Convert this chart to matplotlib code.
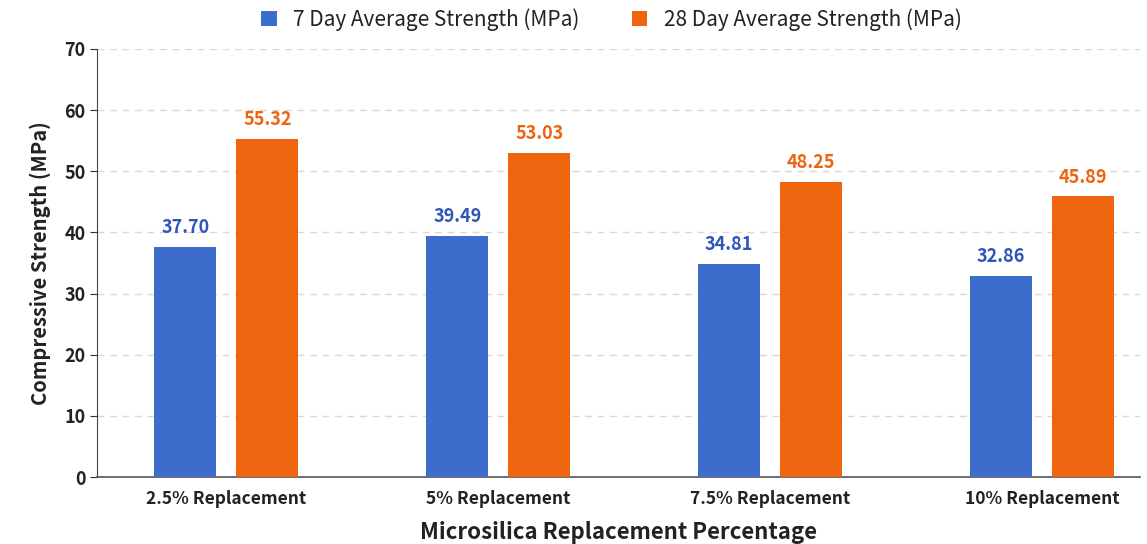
import numpy as np
import matplotlib.pyplot as plt

plt.rcParams['font.family'] = ['Noto Sans CJK KR', 'DejaVu Sans']

categories = ['2.5% Replacement', '5% Replacement', '7.5% Replacement', '10% Replacement']
day7 = [37.70, 39.49, 34.81, 32.86]
day28 = [55.32, 53.03, 48.25, 45.89]

blue = '#3d6dcc'
orange = '#ef650f'

fig = plt.figure(figsize=(11.47, 5.44), dpi=100)
ax = fig.add_axes([0.085, 0.123, 0.909, 0.787])

x = np.arange(len(categories))
w = 0.228
off = 0.151
b1 = ax.bar(x - off, day7, w, color=blue, label='7 Day Average Strength (MPa)', zorder=3)
b2 = ax.bar(x + off, day28, w, color=orange, label='28 Day Average Strength (MPa)', zorder=3)

for bars, vals, c in [(b1, day7, '#2f56b8'), (b2, day28, orange)]:
    for r, v in zip(bars, vals):
        ax.annotate(f'{v:.2f}', (r.get_x() + r.get_width() / 2, v), xytext=(0, 7),
                    textcoords='offset points', ha='center', va='bottom',
                    fontsize=13, fontweight='bold', color=c)

ax.set_ylim(0, 70)
ax.set_xlim(-0.474, 3.36)
ax.set_yticks(range(0, 71, 10))
ax.set_xticks(x)
ax.set_xticklabels(categories)
ax.tick_params(axis='x', length=0, pad=9, labelsize=12.5)
ax.tick_params(axis='y', labelsize=13, length=5, color='#333333')
for t in ax.get_xticklabels() + ax.get_yticklabels():
    t.set_fontweight('bold')
    t.set_color('#222222')

ax.grid(axis='y', linestyle='--', color='#d9d9d9', linewidth=1, dashes=(5, 4), zorder=0)
for s in ['top', 'right']:
    ax.spines[s].set_visible(False)
ax.spines['left'].set_color('#444444')
ax.spines['bottom'].set_color('#555555')
ax.spines['bottom'].set_linewidth(1.2)

ax.set_ylabel('Compressive Strength (MPa)', fontsize=14.5, fontweight='bold', color='#222222', labelpad=10)
ax.set_xlabel('Microsilica Replacement Percentage', fontsize=16, fontweight='bold', color='#222222', labelpad=10)

leg = fig.legend(loc='upper center', bbox_to_anchor=(0.533, 1.02), ncol=2, frameon=False,
                 fontsize=15, handlelength=0.75, handleheight=0.75, columnspacing=2.5)
for t in leg.get_texts():
    t.set_color('#222222')

plt.savefig('out.png', dpi=100)
